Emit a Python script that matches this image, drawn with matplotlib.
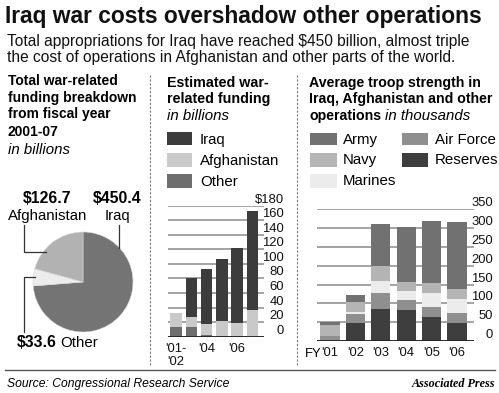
import matplotlib
matplotlib.use("Agg")
import matplotlib.pyplot as plt
import numpy as np
from matplotlib import font_manager
from matplotlib.lines import Line2D
from matplotlib.patches import Rectangle

# ---- data ----
pie_labels = ["Iraq", "Other", "Afghanistan"]
pie_values = [450.4, 33.6, 126.7]

fund_years = ["'01-'02", "'03", "'04", "'05", "'06", "'07"]
fund_ticks = ["'01-\n'02", "", "'04", "", "'06", ""]
fund_other = [13, 13, 3, 1, 0.5, 0]
fund_afghanistan = [20, 14, 15, 20, 18, 36]
fund_iraq = [0, 53, 75, 86, 103, 137]
fund_yticks = [0, 20, 40, 60, 80, 100, 120, 140, 160, 180]
fund_ylabels = ["0", "20", "40", "60", "80", "100", "120", "140", "160", "$180"]

troop_years = ["'01", "'02", "'03", "'04", "'05", "'06"]
troop_reserves = [0, 47, 85, 82, 63, 47]
troop_air_force = [13, 25, 42, 26, 27, 28]
troop_marines = [0, 6, 33, 24, 37, 36]
troop_navy = [29, 26, 40, 26, 28, 27]
troop_army = [8, 18, 110, 145, 165, 178]
troop_yticks = [0, 50, 100, 150, 200, 250, 300, 350]

# ---- styles ----
names = {f.name for f in font_manager.fontManager.ttflist}
SANS = "Liberation Sans" if "Liberation Sans" in names else "DejaVu Sans"
NARROW = "Liberation Sans Narrow" if "Liberation Sans Narrow" in names else SANS
SERIF = "Liberation Serif" if "Liberation Serif" in names else "DejaVu Serif"
plt.rcParams["font.family"] = [SANS, "DejaVu Sans"]

W, H = 499, 393
fig = plt.figure(figsize=(W / 100, H / 100), dpi=100)
fig.patch.set_facecolor("white")
renderer = fig.canvas.get_renderer()


def fx(x):
    return x / W


def fy(y):
    return 1 - y / H


def txt(x, y, s, size=10, **kw):
    kw.setdefault("va", "baseline")
    return fig.text(fx(x), fy(y), s, fontsize=size, **kw)


def fit(t, width):
    bb = t.get_window_extent(renderer)
    t.set_fontsize(t.get_fontsize() * width / bb.width)
    return t.get_fontsize()


def line(xs, ys, **kw):
    fig.add_artist(Line2D([fx(x) for x in xs], [fy(y) for y in ys],
                          transform=fig.transFigure, **kw))


def axes_px(left, top, right, bottom):
    return fig.add_axes([fx(left), fy(bottom), (right - left) / W, (bottom - top) / H])


# ---- header ----
t = txt(5, 23, "Iraq war costs overshadow other operations", 20,
        family=[NARROW, SANS], weight="heavy", color="#111111")
fit(t, 478)
s1 = txt(7, 46, "Total appropriations for Iraq have reached $450 billion, almost triple", 10,
         color="#111111")
sub_size = fit(s1, 466)
txt(7, 62, "the cost of operations in Afghanistan and other parts of the world.", sub_size,
    color="#111111")

# separators
line([150, 150], [75, 365], color="#777777", lw=0.8, dashes=(2, 1.5))
line([297, 297], [75, 365], color="#777777", lw=0.8, dashes=(2, 1.5))
line([5, 495], [370, 370], color="#555555", lw=1.0)

# ---- left panel: pie ----
h = txt(8, 101.7, "funding breakdown", 10, family=[NARROW, SANS], weight="bold")
hsize = fit(h, 129)
txt(8, 85, "Total war-related", hsize, family=[NARROW, SANS], weight="bold")
txt(8, 118, "from fiscal year", hsize, family=[NARROW, SANS], weight="bold")
txt(8, 135.7, "2001-07", hsize, family=[NARROW, SANS], weight="bold")
ib = txt(8, 154, "in billions", 10, style="italic")
body = fit(ib, 62)

ax_pie = axes_px(33, 232, 133, 332)
ax_pie.pie(pie_values, colors=["#747474", "#ececec", "#b2b2b2"], startangle=90,
           counterclock=False, radius=1,
           wedgeprops=dict(edgecolor="#d8d8d8", linewidth=0.4))
ax_pie.set_xlim(-1, 1)
ax_pie.set_ylim(-1, 1)
ax_pie.set_aspect("equal")
ax_pie.axis("off")

a1 = txt(47.5, 203.3, "$126.7", 11.5, weight="bold", ha="center")
fit(a1, 49)
a2 = txt(47.5, 220, "Afghanistan", body, ha="center")
q1 = txt(116.7, 203.3, "$450.4", a1.get_fontsize(), weight="bold", ha="center")
txt(117, 220, "Iraq", body, ha="center")
o1 = txt(17, 347.3, "$33.6", a1.get_fontsize(), weight="bold")
ob = o1.get_window_extent(renderer)
txt(ob.x1 + 3.5, 347.3, "Other", body)

line([24, 24, 46], [225, 252, 252], color="#333333", lw=0.9)
line([119, 119], [225, 248], color="#333333", lw=0.9)
line([35, 24, 24], [277, 277, 332], color="#333333", lw=0.9)

# ---- middle panel: funding ----
h = txt(167, 86.7, "Estimated war-", 10, family=[NARROW, SANS], weight="bold")
fit(h, 101)
txt(167, 103, "related funding", h.get_fontsize(), family=[NARROW, SANS], weight="bold")
txt(167, 120, "in billions", body, style="italic")

mid_colors = {"Iraq": "#3c3c3c", "Afghanistan": "#c9c9c9", "Other": "#6e6e6e"}
for (name, col), (top, bot), base in zip(mid_colors.items(),
                                        [(131.7, 145), (153, 166.7), (174, 188)],
                                        [144, 165, 186.5]):
    fig.add_artist(Rectangle((fx(166.7), fy(bot)), 25.6 / W, (bot - top) / H,
                             transform=fig.transFigure, color=col, lw=0))
    txt(200, base, name, body)

ax_m = axes_px(167.7, 205.5, 264, 336.7)
x = np.arange(len(fund_years))
other = np.array(fund_other)
afg = np.array(fund_afghanistan)
iraq = np.array(fund_iraq)
bw = 0.75
ax_m.bar(x, other, bw, color=mid_colors["Other"], zorder=3)
ax_m.bar(x, afg, bw, bottom=other, color=mid_colors["Afghanistan"], zorder=3)
ax_m.bar(x, iraq, bw, bottom=other + afg, color=mid_colors["Iraq"], zorder=3)
ax_m.set_xlim(-0.54, 5.75)
ax_m.set_ylim(0, 180)
ax_m.set_yticks(fund_yticks)
ax_m.set_yticklabels(fund_ylabels)
ax_m.set_xticks(x)
ax_m.set_xticklabels(fund_ticks)

# ---- right panel: troops ----
h = txt(309, 103.3, "Iraq, Afghanistan and other", 10, family=[NARROW, SANS], weight="bold")
fit(h, 184)
txt(309, 86.7, "Average troop strength in", h.get_fontsize(), family=[NARROW, SANS], weight="bold")
op = txt(309, 120, "operations", h.get_fontsize(), family=[NARROW, SANS], weight="bold")
opb = op.get_window_extent(renderer)
txt(opb.x1 + 4, 120, "in thousands", body, style="italic")

troop_colors = {"Army": "#717171", "Navy": "#b4b4b4", "Marines": "#ececec",
                "Air Force": "#8f8f8f", "Reserves": "#3e3e3e"}
legend_pos = {"Army": (310, 133.3, 145, 144), "Navy": (310, 153, 167, 164.3),
              "Marines": (310, 174, 188, 185.3), "Air Force": (401.7, 133.3, 145, 144),
              "Reserves": (401.7, 153, 167, 164.3)}
for name, (lx, top, bot, base) in legend_pos.items():
    fig.add_artist(Rectangle((fx(lx), fy(bot)), 26.7 / W, (bot - top) / H,
                             transform=fig.transFigure, color=troop_colors[name], lw=0))
    txt(lx + 33, base, name, body)

ax_r = axes_px(317.3, 209.3, 474, 341)
xr = np.arange(len(troop_years))
bottom = np.zeros(len(troop_years))
for name, vals in [("Reserves", troop_reserves), ("Air Force", troop_air_force),
                   ("Marines", troop_marines), ("Navy", troop_navy), ("Army", troop_army)]:
    ax_r.bar(xr, vals, 0.75, bottom=bottom, color=troop_colors[name], zorder=3)
    bottom += np.array(vals)
ax_r.set_xlim(-0.5, 5.67)
ax_r.set_ylim(0, 350)
ax_r.set_yticks(troop_yticks)
ax_r.set_xticks(xr)
ax_r.set_xticklabels(troop_years)
txt(305, 357.3, "FY", body * 0.87)

for ax, right_edge, axr in [(ax_m, 284, 264), (ax_r, 493, 474)]:
    for sp in ax.spines.values():
        sp.set_visible(False)
    ax.set_facecolor("none")
    ax.yaxis.tick_right()
    ax.yaxis.grid(True, color="#8a8a8a", lw=1.1, zorder=0)
    ax.axhline(0, color="#222222", lw=1.3, zorder=4)
    ax.tick_params(axis="both", length=0, labelsize=body * 0.87, colors="#111111")
    ax.tick_params(axis="y", pad=(right_edge - axr) * 0.72)
    ax.tick_params(axis="x", pad=4.3)
    for lab in ax.get_yticklabels():
        lab.set_horizontalalignment("right")
        lab.set_verticalalignment("bottom")

# ---- footer ----
src = txt(7, 386.7, "Source: Congressional Research Service", body, style="italic")
fit(src, 223)
ap = txt(495, 386.7, "Associated Press", body, family=[SERIF], style="italic",
         weight="bold", ha="right")
fit(ap, 83)

fig.savefig("out.png", dpi=100, facecolor="white")
